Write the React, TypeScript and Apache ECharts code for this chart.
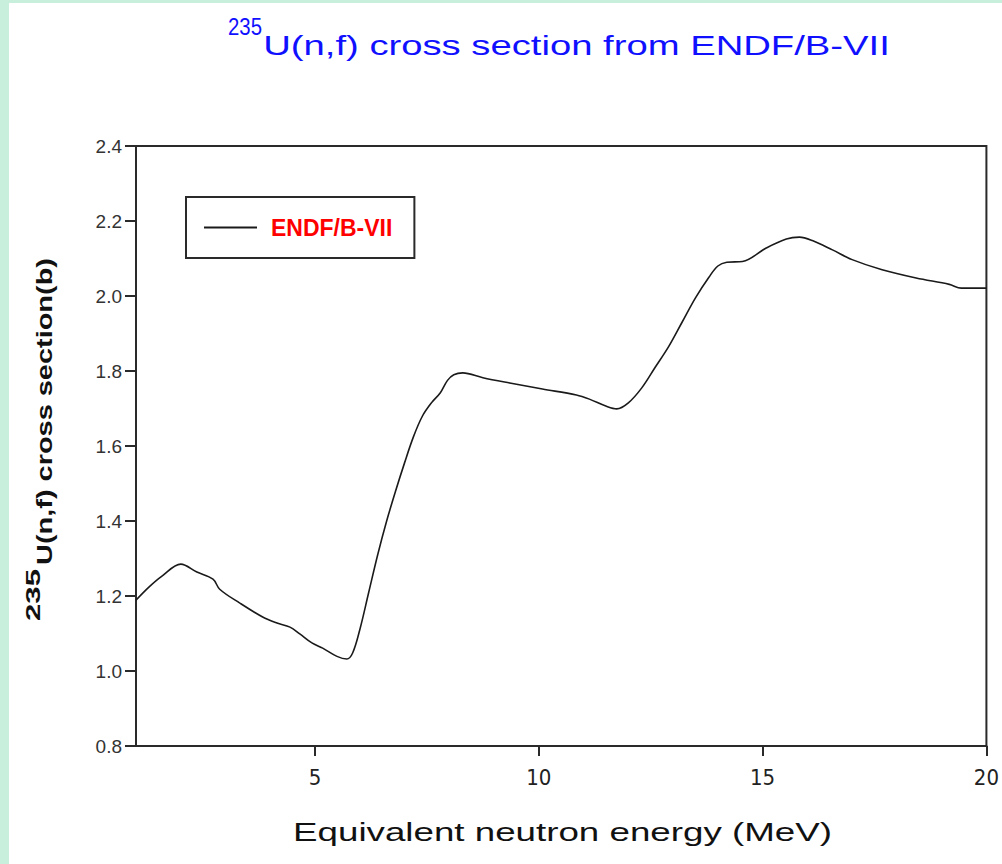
import React, { useEffect, useRef } from "react";
import * as echarts from "echarts";

const energy = [1, 1.3, 1.58, 2.0, 2.36, 2.72, 2.87, 3.32, 3.83, 4.15, 4.44, 4.66, 4.93, 5.17, 5.49, 5.71, 5.84, 6.0, 6.2, 6.4, 6.6, 6.8, 7.0, 7.2, 7.4, 7.6, 7.8, 7.96, 8.1, 8.3, 8.75, 9.35, 10.08, 10.84, 11.13, 11.51, 11.74, 12.0, 12.3, 12.6, 12.9, 13.2, 13.5, 13.8, 14.0, 14.2, 14.55, 15.08, 15.53, 15.82, 16.11, 16.56, 17.0, 17.67, 18.43, 19.17, 19.44, 20];
const sigma = [1.189, 1.225, 1.253, 1.285, 1.264, 1.245, 1.218, 1.181, 1.144, 1.128, 1.117, 1.099, 1.075, 1.061, 1.039, 1.032, 1.048, 1.11, 1.21, 1.31, 1.40, 1.48, 1.555, 1.625, 1.68, 1.715, 1.742, 1.775, 1.79, 1.795, 1.782, 1.768, 1.752, 1.736, 1.725, 1.706, 1.699, 1.715, 1.755, 1.81, 1.865, 1.93, 1.995, 2.05, 2.08, 2.09, 2.092, 2.128, 2.152, 2.157, 2.148, 2.123, 2.097, 2.07, 2.048, 2.031, 2.021, 2.021];
const xTicks = [5, 10, 15, 20];
const seriesName = "ENDF/B-VII";
const titleSup = "235";
const titleMain = "U(n,f) cross section from ENDF/B-VII";
const yNameSup = "235";
const yNameMain = "U(n,f) cross section(b)";
const xName = "Equivalent neutron energy (MeV)";

function measure(text: string, font: string): number {
  const c = document.createElement("canvas").getContext("2d");
  if (!c) return text.length * 10;
  c.font = font;
  return c.measureText(text).width || text.length * 10;
}

function fittedText(
  text: string,
  cx: number,
  cy: number,
  target: number,
  size: number,
  weight: string,
  color: string,
  rotation = 0
) {
  const family = '"Liberation Sans", Arial, sans-serif';
  const w = measure(text, `${weight} ${size}px ${family}`);
  return {
    type: "text",
    x: cx,
    y: cy,
    rotation,
    scaleX: target / w,
    z: 10,
    style: {
      text,
      x: 0,
      y: 0,
      fill: color,
      fontSize: size,
      fontFamily: family,
      fontWeight: weight,
      align: "center",
      verticalAlign: "middle",
    },
  };
}

export default function App() {
  const ref = useRef<HTMLDivElement>(null);
  useEffect(() => {
    if (!ref.current) return;
    const chart = echarts.init(ref.current, undefined, { renderer: "svg" });
    const data = energy.map((e, i) => [e, sigma[i]]);
    const frame = "#2a2a2a";
    chart.setOption({
      animation: false,
      backgroundColor: "#ffffff",
      grid: {
        left: 136,
        right: 14,
        top: 146,
        bottom: 118,
        show: true,
        borderColor: frame,
        borderWidth: 2,
        backgroundColor: "transparent",
      },
      legend: {
        left: 186,
        top: 197,
        orient: "horizontal",
        data: [{ name: seriesName, icon: "rect" }],
        itemWidth: 53,
        itemHeight: 2,
        itemStyle: { color: "#1a1a1a" },
        borderColor: frame,
        borderWidth: 2,
        borderRadius: 0,
        padding: [18, 22, 18, 18],
        selectedMode: false,
        textStyle: {
          color: "#ff0000",
          fontWeight: "bold",
          fontSize: 23,
          fontFamily: '"Liberation Sans", Arial, sans-serif',
          lineHeight: 25,
          padding: [0, 0, 0, 9],
        },
      },
      xAxis: {
        type: "value",
        min: 1,
        max: 20,
        axisLine: { show: true, onZero: false, lineStyle: { color: frame, width: 2 } },
        axisTick: { show: true, length: 10, customValues: xTicks, lineStyle: { color: frame, width: 2 } },
        axisLabel: {
          customValues: xTicks,
          margin: 20,
          color: "#222",
          fontSize: 22,
          fontFamily: '"Liberation Sans Narrow", "DejaVu Sans Condensed", sans-serif',
        },
        splitLine: { show: false },
      },
      yAxis: {
        type: "value",
        min: 0.8,
        max: 2.4,
        interval: 0.2,
        axisLine: { show: true, lineStyle: { color: frame, width: 2 } },
        axisTick: { show: true, length: 11, lineStyle: { color: frame, width: 2 } },
        axisLabel: {
          margin: 14,
          color: "#333",
          fontSize: 19,
          fontFamily: '"Liberation Sans", Arial, sans-serif',
          formatter: (v: number) => v.toFixed(1),
        },
        splitLine: { show: false },
      },
      graphic: [
        { type: "rect", shape: { x: 0, y: 0, width: 9, height: 864 }, style: { fill: "#c8eedc" }, z: 0 },
        { type: "rect", shape: { x: 0, y: 0, width: 1002, height: 3 }, style: { fill: "#c8eedc" }, z: 0 },
        fittedText(titleSup, 245, 27, 34, 23, "normal", "#1010ff"),
        fittedText(titleMain, 576.5, 45, 627, 28, "normal", "#1010ff"),
        fittedText(xName, 562.5, 832, 539, 26, "normal", "#111"),
        fittedText(yNameMain, 44, 411.5, 307, 22, "bold", "#111", Math.PI / 2),
        fittedText(yNameSup, 33, 595, 52, 20, "bold", "#111", Math.PI / 2),
      ],
      series: [
        {
          name: seriesName,
          type: "line",
          data,
          symbol: "none",
          smooth: 0.35,
          lineStyle: { color: "#1a1a1a", width: 1.6 },
          itemStyle: { color: "#1a1a1a" },
        },
      ],
    });
    return () => chart.dispose();
  }, []);
  return (
    <div
      ref={ref}
      style={{ position: "absolute", left: 0, top: 0, width: 1002, height: 864 }}
    />
  );
}
